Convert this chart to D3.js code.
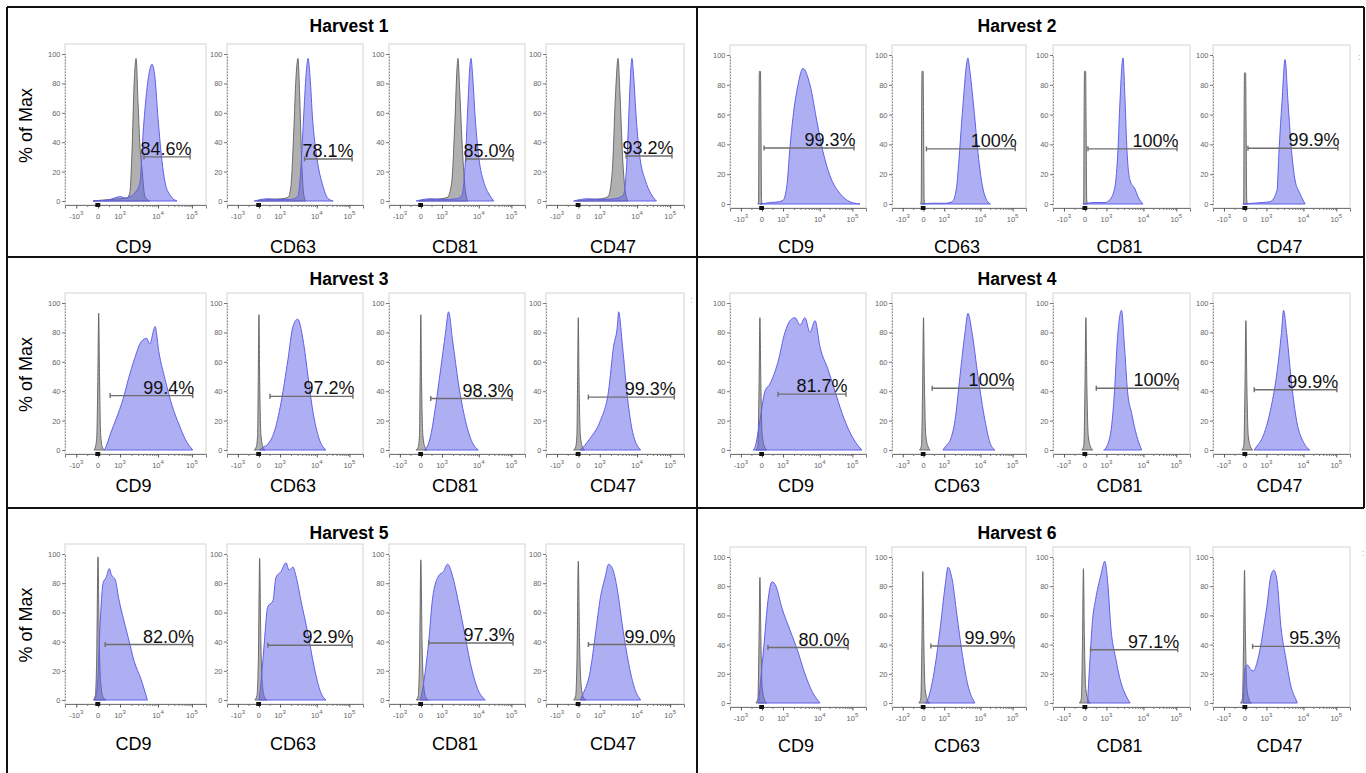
<!DOCTYPE html>
<html>
<head>
<meta charset="utf-8">
<script src="https://cdn.jsdelivr.net/npm/d3@7/dist/d3.min.js"></script>
<style>
  body { margin: 0; background: #fff; }
  text { font-family: "Liberation Sans", Arial, Helvetica, sans-serif; }
</style>
</head>
<body>
<div id="chart"></div>
<script>
// ---- data ----
// x values are positions on the logicle display axis (0-100 of the axis width),
// y values are "% of Max"
const harvests = ["Harvest 1", "Harvest 2", "Harvest 3", "Harvest 4", "Harvest 5", "Harvest 6"];
const markers = ["CD9", "CD63", "CD81", "CD47"];

const xTickPos = [8, 23.5, 39, 66, 90];
const xTickBase = ["-10", "0", "10", "10", "10"];
const xTickExp = ["3", "", "3", "4", "5"];
const yTicks = [0, 20, 40, 60, 80, 100];

const positivePct = [
  ["84.6%", "78.1%", "85.0%", "93.2%"],
  ["99.3%", "100%", "100%", "99.9%"],
  ["99.4%", "97.2%", "98.3%", "99.3%"],
  ["81.7%", "100%", "100%", "99.9%"],
  ["82.0%", "92.9%", "97.3%", "99.0%"],
  ["80.0%", "99.9%", "97.1%", "95.3%"]
];

// gate: [start, end, height]
const gates = [
  [[56, 88.7, 30], [57, 92, 28.6], [56.6, 91.2, 28.6], [58, 91.3, 30.6]],
  [[25, 91.2, 37.6], [25.7, 92, 37], [25.5, 90.5, 37], [25.5, 91.2, 37.4]],
  [[32, 90.6, 37], [31.6, 92.6, 36.5], [30.7, 90.5, 35], [30.7, 93, 36]],
  [[35.3, 85.3, 38], [30, 90.3, 42], [31.6, 91.2, 42], [30.1, 90.4, 41]],
  [[28.5, 90.5, 38], [30, 92, 37.5], [29.2, 91.2, 39], [30.7, 92.7, 38]],
  [[27.9, 86.8, 38], [29, 91, 39], [27.4, 91, 36.5], [28.9, 91.9, 38.8]]
];

// isotype control histograms (grey)
const controlH1 = [
  [[20,0],[25,0.5],[32,1],[38,1.5],[44,2],[46,6],[47.5,33],[49,79],[50.4,97],[51.8,67],[53,40],[54.6,22],[56.7,3],[60,0]],
  [[22,0],[30,1],[40,1.5],[45,2.5],[47,10],[49,45],[50.8,85],[52.2,97],[53.5,70],[55,25],[56.5,4],[58,0]],
  [[22,0],[30,1],[38,1.5],[43,2.5],[46,12],[48.5,55],[50,90],[50.7,97],[52,75],[54,35],[56,8],[58,0]],
  [[22,0],[32,1],[40,1.5],[45,3],[48,20],[50.5,75],[52.2,97],[53.5,75],[55.5,30],[57.5,6],[59.5,0]]
];
const controlH2 = [
  [[20.5,0],[21,2],[21.3,60],[21.6,89],[22.4,89],[22.8,50],[23.2,3],[23.8,0]],
  [[21.3,0],[21.8,2],[22.1,60],[22.4,89],[23.2,89],[23.6,50],[24,3],[24.6,0]],
  [[21.9,0],[22.4,2],[22.7,60],[23,89],[23.8,89],[24.2,50],[24.6,3],[25.2,0]],
  [[21.9,0],[22.4,2],[22.7,60],[23,88],[23.8,88],[24.2,50],[24.6,3],[25.2,0]]
];
const controlH3 = [
  [[20.5,0],[21.5,2],[22.5,8],[23.3,50],[23.9,93],[24.5,50],[25.3,10],[26.5,2],[28,0]],
  [[20,0],[21.5,2],[22.5,10],[23,50],[23.5,92],[24,50],[25,10],[26.5,2],[28,0]],
  [[20,0],[21.5,2],[22.4,10],[22.9,50],[23.4,92],[23.9,50],[24.9,10],[26.4,2],[28,0]],
  [[20,0],[21.5,2],[22.4,10],[22.9,50],[23.4,90],[23.9,50],[24.9,10],[26.4,2],[28,0]]
];
const controlH4 = [
  [[19,0],[20.5,3],[21.3,40],[22,90],[22.7,45],[23.7,10],[25.5,2],[27,0]],
  [[20.5,0],[22,3],[22.8,40],[23.5,90],[24.2,45],[25.2,10],[27,2],[28.5,0]],
  [[21,0],[22.5,3],[23.3,40],[24,90],[24.7,45],[25.7,10],[27.5,2],[29,0]],
  [[21,0],[22.5,3],[23.3,40],[24,88],[24.7,45],[25.7,10],[27.5,2],[29,0]]
];
const controlH5 = [
  [[20,0],[21.5,3],[22.5,30],[23.4,98],[24.3,40],[25.5,10],[27,2],[29,0]],
  [[20.5,0],[22,3],[23.1,30],[24,97],[24.9,40],[26.1,10],[27.6,2],[29.5,0]],
  [[20,0],[21.5,3],[22.5,30],[23.4,96],[24.3,40],[25.5,10],[27,2],[29,0]],
  [[20,0],[21.5,3],[22.5,30],[23.4,95],[24.3,40],[25.5,10],[27,2],[29,0]]
];
const controlH6 = [
  [[19,0],[20.5,3],[21.3,40],[22,86],[22.7,45],[23.7,10],[25.5,2],[27,0]],
  [[20,0],[21.5,3],[22.3,40],[23,90],[23.7,45],[24.7,10],[26.5,2],[28,0]],
  [[19.2,0],[20.7,3],[21.5,40],[22.2,92],[22.9,45],[23.9,10],[25.7,2],[27.2,0]],
  [[20,0],[21.5,3],[22.3,40],[23,91],[23.7,45],[24.7,10],[26.5,2],[28,0]]
];

// stained histograms (blue)
const stainedH1 = [
  [[20,0],[29.8,0.5],[35,2],[39,3],[43,2],[46.1,3],[50,6],[53.2,13],[55.3,45],[58.2,77],[60.3,90],[61.7,93],[63.8,84],[66,56],[68.8,27],[70.9,13],[74.5,4],[79.4,0]],
  [[20,0],[30,1.5],[38,1],[46,1],[52,3],[54.5,25],[56.5,60],[58.5,90],[59.6,97],[61,85],[63,55],[66,30],[70.6,10],[74,2],[78,0]],
  [[20,0],[30,1.5],[40,1],[50,1.5],[53.7,4],[56,25],[58,65],[59.5,92],[60.3,97],[61.5,85],[63.5,55],[66,30],[70,12],[74,4],[77,0]],
  [[20,0],[30,1.5],[40,1],[50,1.5],[56,4],[58.5,25],[60.5,70],[61.8,94],[62.3,97],[63.5,85],[65.5,55],[68,30],[72,14],[76,5],[80,0]]
];
const stainedH2 = [
  [[22,0],[30,1],[36,1.5],[39,2.5],[41.9,13],[44.1,38],[46.3,58],[50,80],[53.7,91],[58.8,80],[64,55],[68.4,35],[73.5,19],[80.9,7],[88.2,1.5],[95.6,0]],
  [[22,0],[30,0.5],[40,0.5],[44.9,1.5],[48,10],[50,30],[52,55],[53.7,75],[55.5,93],[56.6,98],[58,90],[61,65],[64.7,30],[67.5,12],[69.9,4],[73.5,0]],
  [[22,0],[30,1],[38,1],[41.6,3],[45.3,12],[47.4,36],[48.9,69],[51.1,98],[52.6,69],[54,36],[56.2,16],[59.9,10],[62,5],[65.7,0]],
  [[22,0],[29.2,0.5],[36,1],[41.6,1.5],[46.7,9],[48.2,36],[50.4,69],[52.6,97],[54.7,69],[57.7,32],[59.9,16],[63.5,7],[67.2,0]]
];
const stainedH3 = [
  [[28,0],[29,2],[32.6,12],[36.2,21],[41.3,35],[44.9,48],[49.3,62],[54.3,74],[58,76],[60.1,72],[63,82],[63.8,84],[66.7,66],[71,48],[76,30],[81,17],[85.5,7],[90.6,0]],
  [[24,0],[27,2],[30,4],[34.6,12],[39.7,32],[44.9,62],[48.5,84],[52,89],[55.9,75],[59.6,50],[63.2,26],[67.6,8],[72.8,0]],
  [[26,0],[28,2],[30.7,10],[34.3,30],[38,55],[41.6,80],[43.8,94],[46.7,75],[51.1,45],[56.2,20],[61.3,5],[65.7,0]],
  [[24.8,0],[28,3],[32,8],[39.4,20],[45.3,40],[48.9,70],[51.8,85],[52.6,94],[55.5,70],[59.1,35],[62.8,12],[68.6,0]]
];
const stainedH4 = [
  [[17,0],[18.4,2],[22,20],[25.7,40],[29.4,45],[35.3,60],[40.4,80],[44.1,88],[47.8,90],[51.5,85],[55.1,90],[58.8,80],[62.5,88],[66.2,70],[72,55],[77.2,40],[82.4,25],[88.2,12],[94.1,3],[97,0]],
  [[38,0],[39.6,2],[44,8],[47,20],[50.7,50],[54.5,80],[56.7,93],[59.7,80],[64.2,50],[69.4,20],[73.1,5],[76.9,0]],
  [[37,0],[39,2],[42.6,15],[44.9,40],[47,75],[50,95],[52.2,70],[54.4,40],[57.4,25],[61,10],[64.7,0]],
  [[30,0],[31.6,2],[36.8,10],[42.6,30],[46.3,50],[50,80],[51.5,95],[53.7,80],[57.4,45],[61,20],[66.2,5],[70.6,0]]
];
const stainedH5 = [
  [[21,0],[23,10],[24.8,50],[27,80],[29.2,84],[31.4,90],[32.8,86],[35.8,82],[38,70],[41.6,55],[45.3,41],[48.9,27],[54,14],[58.4,0]],
  [[23.5,0],[25,12],[27,34],[30,64],[33.8,68],[36,84],[39.7,88],[43.4,94],[45.6,89],[48.5,91],[50.7,85],[54.4,68],[59.6,45],[64,23],[69,5],[72.8,0]],
  [[23,0],[24.8,8],[29.2,40],[32.1,70],[36.5,85],[40.1,88],[43.1,93],[46.7,85],[50.4,70],[54.7,50],[59.9,25],[65,8],[70.8,0]],
  [[25,0],[26.3,3],[32.1,20],[35.8,45],[39.4,70],[43.1,85],[45.3,93],[48.2,90],[51.8,75],[55.5,50],[59.9,25],[64.2,8],[68.6,0]]
];
const stainedH6 = [
  [[21,0],[22,10],[25,40],[27.9,70],[30.9,83],[33.8,80],[38.2,65],[44.1,50],[50,35],[55.1,20],[60.3,8],[66.2,0]],
  [[25,0],[26.9,3],[32.1,25],[35.8,50],[39.6,80],[41.8,93],[44.8,85],[48.5,60],[52.2,35],[56.7,12],[61.9,0]],
  [[25.2,0],[26.7,25],[28.9,57],[31.1,71],[34.8,87],[37.8,97],[40,82],[42.2,52],[45.9,30],[49.6,14],[53.3,5],[56.3,0]],
  [[22,0],[23.7,25],[25.2,26],[27.4,23],[29.6,22],[31.9,27],[34.8,39],[37,52],[39.3,66],[42.2,87],[44.4,91],[46.7,84],[49.6,52],[53.3,30],[57,11],[60.7,2],[61.5,0]]
];

const controls = [controlH1, controlH2, controlH3, controlH4, controlH5, controlH6];
const stained = [stainedH1, stainedH2, stainedH3, stainedH4, stainedH5, stainedH6];

// ---- layout ----
const W = 1366, H = 773;
const colBoxX = [[65, 227, 389, 546], [730, 892, 1053, 1213]];
const colBoxW = [[141, 136, 136, 138], [136, 134, 137, 137]];
const rowY100 = [[54, 55], [303, 303], [554, 557]];
const rowY0 = [[201, 204], [450, 450], [700, 703]];
const titleX = [349, 1017];
const titleY = [32, 285, 539];
const labelY = [[253, 253], [492, 492], [750, 752]];

const svg = d3.select("#chart").append("svg")
  .attr("width", W)
  .attr("height", H);

svg.append("rect").attr("width", W).attr("height", H).attr("fill", "#fff");

// minor ticks on the logicle axis
const minorX = [15.75, 31.25];
d3.range(2, 10).forEach(k => {
  minorX.push(39 + 27 * Math.log10(k));
  minorX.push(66 + 24 * Math.log10(k));
});

harvests.forEach((name, i) => {
  const row = Math.floor(i / 2), col = i % 2;

  svg.append("text")
    .attr("x", titleX[col])
    .attr("y", titleY[row])
    .attr("text-anchor", "middle")
    .style("font-size", "17.5px")
    .style("font-weight", "bold")
    .text(name);

  if (col === 0) {
    svg.append("text")
      .attr("transform", `translate(32,${(rowY100[row][0] + rowY0[row][0]) / 2 - 2}) rotate(-90)`)
      .attr("text-anchor", "middle")
      .style("font-size", "18px")
      .text("% of Max");
  }

  markers.forEach((m, j) => {
    const bx = colBoxX[col][j], bw = colBoxW[col][j];
    const y100 = rowY100[row][col], y0 = rowY0[row][col];
    const top = y100 - 10, bottom = y0 + 4;
    const h = bottom - top;

    const x = d3.scaleLinear().domain([0, 100]).range([0, bw]);
    const y = d3.scaleLinear().domain([0, 100]).range([y0 - top, y100 - top]);

    const g = svg.append("g").attr("transform", `translate(${bx},${top})`);
    const clipId = `clip-${i}-${j}`;
    g.append("clipPath").attr("id", clipId)
      .append("rect").attr("width", bw).attr("height", h);

    g.append("rect")
      .attr("width", bw).attr("height", h)
      .attr("fill", "#fff")
      .attr("stroke", "#d4d4d4")
      .attr("stroke-width", 1);

    const area = d3.area()
      .x(d => x(d[0]))
      .y0(y(0))
      .y1(d => y(d[1]))
      .curve(d3.curveMonotoneX);

    const plot = g.append("g").attr("clip-path", `url(#${clipId})`);

    plot.append("path")
      .datum(controls[i][j])
      .attr("d", area)
      .attr("fill", "#8f8f8f")
      .attr("fill-opacity", 0.7)
      .attr("stroke", "#5f5f5f")
      .attr("stroke-width", 0.9);

    plot.append("path")
      .datum(stained[i][j])
      .attr("d", area)
      .attr("fill", "#5e5ee6")
      .attr("fill-opacity", 0.5)
      .attr("stroke", "#6060ea")
      .attr("stroke-width", 1);

    // y axis
    const yAxis = g.append("g")
      .call(d3.axisLeft(y).tickValues(yTicks).tickSize(3).tickPadding(1.5));
    yAxis.select(".domain").attr("stroke", "#888").attr("stroke-dasharray", "1.5,1.5");
    yAxis.selectAll(".tick line").attr("stroke", "#777");
    yAxis.selectAll("text").attr("fill", "#666").style("font-size", "7.5px");

    // x axis
    const xAxis = g.append("g")
      .attr("transform", `translate(0,${h})`)
      .call(d3.axisBottom(x).tickValues(xTickPos).tickSize(3.5).tickFormat(""));
    xAxis.select(".domain").attr("stroke", "#777");
    xAxis.selectAll(".tick line").attr("stroke", "#555");

    g.append("g")
      .attr("transform", `translate(0,${h})`)
      .call(d3.axisBottom(x).tickValues(minorX).tickSize(2).tickFormat(""))
      .call(a => a.select(".domain").remove())
      .selectAll(".tick line").attr("stroke", "#777");

    xTickPos.forEach((p, k) => {
      const t = g.append("text")
        .attr("x", x(p))
        .attr("y", h + 14)
        .attr("text-anchor", "middle")
        .attr("fill", "#666")
        .style("font-size", "7.5px")
        .text(xTickBase[k]);
      if (xTickExp[k]) {
        t.append("tspan").attr("dy", -4).style("font-size", "6px").text(xTickExp[k]);
      }
    });

    // events piled up at zero
    g.append("rect")
      .attr("x", x(21.5)).attr("y", h - 2)
      .attr("width", x(25) - x(21.5)).attr("height", 4)
      .attr("fill", "#111");

    // gate
    const [g1, g2, gy] = gates[i][j];
    const gate = g.append("g").attr("stroke", "#6e6e6e").attr("stroke-width", 1.4);
    gate.append("line").attr("x1", x(g1)).attr("x2", x(g2)).attr("y1", y(gy)).attr("y2", y(gy));
    gate.append("line").attr("x1", x(g1)).attr("x2", x(g1)).attr("y1", y(gy) - 2.5).attr("y2", y(gy) + 2.5);
    gate.append("line").attr("x1", x(g2)).attr("x2", x(g2)).attr("y1", y(gy) - 2.5).attr("y2", y(gy) + 2.5);

    g.append("text")
      .attr("x", x(g2) + 1.5)
      .attr("y", y(gy) - 2)
      .attr("text-anchor", "end")
      .attr("fill", "#111")
      .style("font-size", "18px")
      .text(positivePct[i][j]);

    svg.append("text")
      .attr("x", bx + bw / 2 - 2)
      .attr("y", labelY[row][col])
      .attr("text-anchor", "middle")
      .style("font-size", "18px")
      .text(m);
  });
});

// small leftover marks at the panel edges
[[690, 303], [1358, 60], [1362, 556]].forEach(p => {
  svg.append("text").attr("x", p[0]).attr("y", p[1])
    .attr("fill", "#aaa").style("font-size", "9px").text(":");
});

// panel frame
const frame = svg.append("g").attr("stroke", "#111").attr("stroke-width", 2);
frame.append("line").attr("x1", 7).attr("x2", 1364).attr("y1", 7).attr("y2", 7);
frame.append("line").attr("x1", 7).attr("x2", 1364).attr("y1", 257).attr("y2", 257);
frame.append("line").attr("x1", 7).attr("x2", 1364).attr("y1", 508).attr("y2", 508);
frame.append("line").attr("x1", 7).attr("x2", 7).attr("y1", 7).attr("y2", H);
frame.append("line").attr("x1", 697).attr("x2", 697).attr("y1", 7).attr("y2", H);
frame.append("line").attr("x1", 1364).attr("x2", 1364).attr("y1", 7).attr("y2", 508);
</script>
</body>
</html>
